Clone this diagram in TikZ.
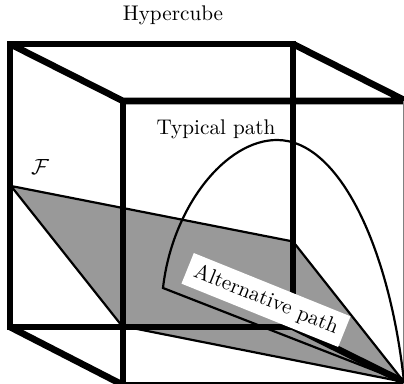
\documentclass[tikz,border=0pt]{standalone}
\definecolor{facegray}{HTML}{999999}
\tikzset{
  cube/.style={line width=3.3pt,line join=miter},
  thinline/.style={line width=1.1pt},
  lab/.style={inner sep=0pt,font=\fontsize{10.6}{12}\selectfont}
}
\begin{document}
\begin{tikzpicture}[x=0.5pt,y=-0.5pt]
\useasboundingbox (0,0) rectangle (404,384);
\coordinate (A) at (10,44); \coordinate (B) at (293,44);
\coordinate (C) at (293,327); \coordinate (D) at (10,327);
\coordinate (E) at (123,101); \coordinate (F) at (406,101);
\coordinate (G) at (406,385); \coordinate (H) at (123,385);
\coordinate (P) at (11,186); \coordinate (Q) at (293,241.5);
\coordinate (R) at (404,382); \coordinate (S) at (122,326);
\coordinate (T) at (163,288);
\coordinate (RT) at (403.5,101); \coordinate (RB) at (403.5,384);
\draw[thinline,fill=facegray] (P) -- (Q) -- (R) -- (S) -- cycle;
\draw[cube] (A) -- (B) -- (C) -- (D) -- cycle;
\draw[cube] (E) -- (H) -- (G);
\draw[cube] (H) -- (D);
\draw[cube] (A) -- (E) -- (F) -- (B);
\draw[cube] (C) -- (R);
\draw[line width=0.5pt,gray] (RT) -- (RB);
\draw[thinline] (T) .. controls (172,208) and (225,140) .. (277,140) .. controls (340,140) and (390,250) .. (R) -- cycle;
\node[lab] (hyper) at (173,15) {Hypercube};
\node[lab] (typ) at (216,129) {Typical path};
\node[lab] (fam) at (40,167) {$\mathcal{F}$};
\node[lab,fill=white,rotate=-22,minimum width=84.5pt,minimum height=16.5pt] (alt) at (266,300) {Alternative path};
\end{tikzpicture}
\end{document}
